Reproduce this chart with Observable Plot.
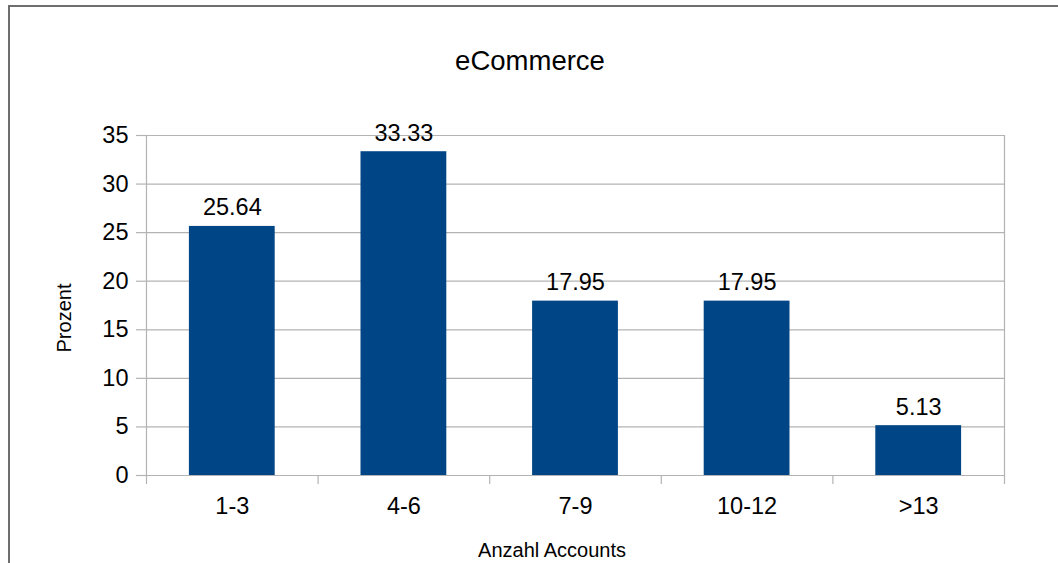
<!DOCTYPE html>
<html>
<head>
<meta charset="utf-8">
<script src="https://cdn.jsdelivr.net/npm/d3@7"></script>
<script src="https://cdn.jsdelivr.net/npm/@observablehq/plot@0.6"></script>
<style>
  html, body { margin: 0; padding: 0; background: #fff; }
  #wrap { position: relative; width: 1058px; height: 563px; overflow: hidden; font-family: "Liberation Sans", Arial, sans-serif; color: #000; }
  #border { position: absolute; left: 8px; top: 5px; width: 1080px; height: 600px; border: 2px solid #6e6e6e; box-sizing: border-box; }
  #chart { position: absolute; left: 0; top: 0; }
  .lbl { position: absolute; line-height: 1; white-space: nowrap; }
  #title { font-size: 27.5px; left: 530px; top: 47px; transform: translateX(-50%); }
  #xlab { font-size: 20px; left: 552px; top: 540px; transform: translateX(-50%); }
  #ylab { font-size: 20px; left: 64px; top: 318px; transform: translate(-50%, -50%) rotate(-90deg); }
</style>
</head>
<body>
<div id="wrap">
  <div id="border"></div>
  <div id="chart"></div>
  <div class="lbl" id="title">eCommerce</div>
  <div class="lbl" id="xlab">Anzahl Accounts</div>
  <div class="lbl" id="ylab">Prozent</div>
</div>
<script>
const categories = ["1-3", "4-6", "7-9", "10-12", ">13"];
const values = [25.64, 33.33, 17.95, 17.95, 5.13];
const yTicks = [0, 5, 10, 15, 20, 25, 30, 35];
const title = "eCommerce";

const data = categories.map((c, i) => ({cat: c, i, value: values[i]}));
const n = categories.length;
const boundaries = d3.range(n + 1);
const centers = d3.range(n).map(i => i + 0.5);

const chart = Plot.plot({
  width: 1058,
  height: 563,
  marginTop: 135,
  marginBottom: 88,
  marginLeft: 146,
  marginRight: 54,
  style: {fontFamily: "'Liberation Sans', Arial, sans-serif", fontSize: "23.5px", color: "#000", background: "transparent"},
  x: {domain: [0, n], label: null},
  y: {domain: [0, 35], label: null},
  marks: [
    Plot.gridY(yTicks, {stroke: "#b3b3b3", strokeOpacity: 1, strokeWidth: 1.2}),
    Plot.ruleX([0, n], {stroke: "#b3b3b3", strokeWidth: 1.2}),
    Plot.rectY(data, {x1: d => d.i + 0.25, x2: d => d.i + 0.75, y: "value", fill: "#004586"}),
    Plot.axisY({ticks: yTicks, tickSize: 10, tickPadding: 8, stroke: "#b3b3b3", strokeWidth: 1.2, label: null, fill: "#000"}),
    Plot.axisX({ticks: boundaries, tickSize: 9, tickFormat: () => "", stroke: "#b3b3b3", strokeWidth: 1.2, label: null}),
    Plot.axisX({ticks: centers, tickSize: 0, tickPadding: 22, tickFormat: v => categories[Math.floor(v)], label: null, fill: "#000"}),
    Plot.ruleY([0], {stroke: "#b3b3b3", strokeWidth: 1.2}),
    Plot.text(data, {x: d => d.i + 0.5, y: "value", text: d => d.value.toFixed(2), lineAnchor: "bottom", dy: -11, fill: "#000"})
  ]
});
document.getElementById("chart").appendChild(chart);
</script>
</body>
</html>
